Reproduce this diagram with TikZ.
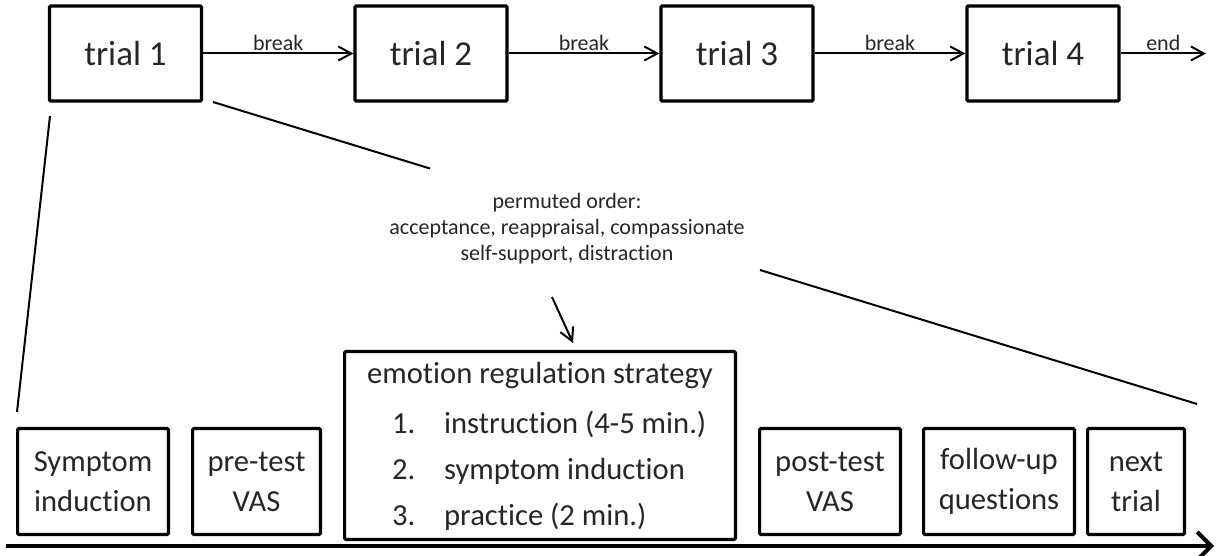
\documentclass[tikz,border=0pt]{standalone}
\usepackage{fontspec}
\setmainfont{Carlito}[Ligatures = NoCommon]
\usetikzlibrary{arrows.meta}

\begin{document}
\begin{tikzpicture}[%
        x = 0.5pt,
        y = -0.5pt,
        line width = 1pt,
        box/.style = {draw, line width = 1.6pt, rounded corners = 0.6pt, inner sep = 0pt, text = black!85, align = center},
        trialbox/.style = {box, minimum width = 76pt, minimum height = 47.5pt, font = \fontsize{17.5}{21}\selectfont},
        stagebox/.style = {box, minimum height = 53pt, font = \fontsize{15.3}{20}\selectfont},
        barb/.style = {-{Straight Barb[length = 6.5pt, width = 7pt]}},
        smalltext/.style = {font = \fontsize{11}{13}\selectfont, text = black!85, inner sep = 1pt}
    ]

        \useasboundingbox (0,0) rectangle (1216,556);

        % The four trials along the top.
        \node[trialbox] at (125.5, 53.5) (t1) {trial 1};
        \node[trialbox] at (431, 53.5) (t2) {trial 2};
        \node[trialbox] at (737, 53.5) (t3) {trial 3};
        \node[trialbox] at (1043, 53.5) (t4) {trial 4};
        \coordinate (fin) at (1206, 53.5);

        \draw[barb] (t1) -- node[smalltext, above] {break} (t2);
        \draw[barb] (t2) -- node[smalltext, above] {break} (t3);
        \draw[barb] (t3) -- node[smalltext, above] {break} (t4);
        \draw[barb] (t4) -- node[smalltext, above] {end} (fin);

        % Stages of one trial.
        \node[stagebox, minimum width = 75.4pt] at (93, 481.5) (s1) {Symptom\\induction};
        \node[stagebox, minimum width = 63.9pt] at (256.5, 481.5) (s2) {pre-test\\VAS};
        \node[box, minimum width = 195.4pt, minimum height = 89.9pt,
            font = \fontsize{15.3}{23}\selectfont] at (540, 445.5) (s3) {%
            \begin{tabular}{@{\hspace{12.5pt}}p{26pt}@{}l@{}}
                \multicolumn{2}{@{}c@{}}{\rule{0pt}{14pt}emotion regulation strategy}\\[2pt]
                1. & instruction (4-5 min.)\\
                2. & symptom induction\\
                3. & practice (2 min.)
            \end{tabular}};
        \node[stagebox, minimum width = 70.4pt] at (830, 481.5) (s4) {post-test\\VAS};
        \node[stagebox, minimum width = 75.4pt] at (999, 481.5) (s5) {follow-up\\questions};
        \node[stagebox, minimum width = 48.4pt] at (1136, 481.5) (s6) {next\\trial};

        % Zoom lines from trial 1 down to its stages.
        \coordinate (za) at (50, 116);
        \coordinate (zb) at (17, 412);
        \coordinate (zc) at (213, 102);
        \coordinate (zd) at (430, 168.5);
        \coordinate (ze) at (760, 270);
        \coordinate (zf) at (1197, 404);
        \draw (za) -- (zb);
        \draw (zc) -- (zd);
        \draw (ze) -- (zf);

        % Order of the strategies.
        \node[smalltext, align = center] at (567, 229) (perm)
            {permuted order:\\acceptance, reappraisal, compassionate\\self-support, distraction};
        \coordinate (pa) at (552, 297);
        \coordinate (pb) at (573, 343);
        \draw[barb] (pa) -- (pb);

        % Time axis.
        \coordinate (ta) at (6, 546);
        \coordinate (tb) at (1214, 546);
        \draw[line width = 2pt, -{Straight Barb[length = 7pt, width = 14pt]}] (ta) -- (tb);
    \end{tikzpicture}
\end{document}
